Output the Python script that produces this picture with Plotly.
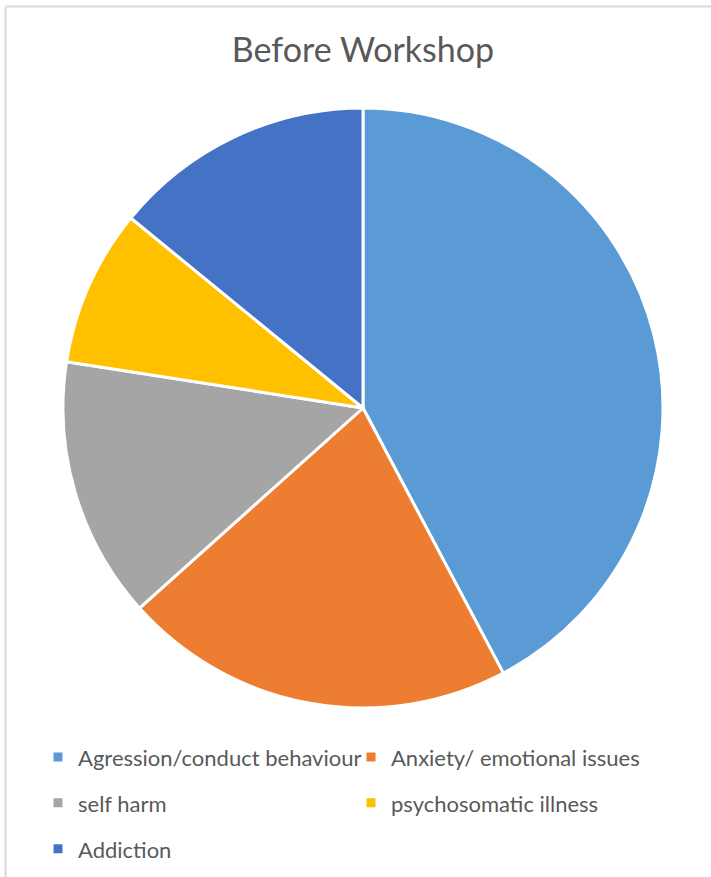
import plotly.graph_objects as go

categories = ["Agression/conduct behaviour", "Anxiety/ emotional issues", "self harm",
              "psychosomatic illness", "Addiction"]
values = [30, 15, 10, 6, 10]
colors = ["#5B9BD5", "#ED7D31", "#A5A5A5", "#FFC000", "#4472C4"]

W, H = 711, 877
labels_html = ['<span style="font-size:22px;baseline-shift:4px">%s</span>' % c for c in categories]

fig = go.Figure(go.Pie(
    labels=labels_html,
    values=values,
    sort=False,
    direction="clockwise",
    rotation=0,
    marker=dict(colors=colors, line=dict(color="white", width=3)),
    textinfo="none",
    hoverinfo="label+value",
    domain=dict(x=[63 / W, 663 / W], y=[1 - 711 / H, 1 - 105 / H]),
))

fig.update_layout(
    width=W, height=H,
    margin=dict(l=0, r=0, t=0, b=0),
    paper_bgcolor="white",
    plot_bgcolor="white",
    font=dict(family="Lato, Open Sans, sans-serif", color="#595959"),
    title=dict(text="Before Workshop", x=363 / W, xanchor="center", y=1 - 50 / H,
               yanchor="middle", font=dict(size=34, color="#595959")),
    legend=dict(orientation="h", x=38 / W, xanchor="left", y=1 - 729 / H, yanchor="top",
                font=dict(size=33, color="#595959"), entrywidth=268, entrywidthmode="pixels",
                traceorder="normal"),
    shapes=[
        dict(type="line", xref="paper", yref="paper", x0=5.5 / W, x1=1, y0=1 - 6.5 / H, y1=1 - 6.5 / H,
             line=dict(color="#D9D9D9", width=2)),
        dict(type="line", xref="paper", yref="paper", x0=5.5 / W, x1=5.5 / W, y0=0, y1=1 - 6.5 / H,
             line=dict(color="#D9D9D9", width=2)),
    ],
)

fig.write_html("out.html", config={"displayModeBar": False},
               post_script="document.body.style.margin='0';")
